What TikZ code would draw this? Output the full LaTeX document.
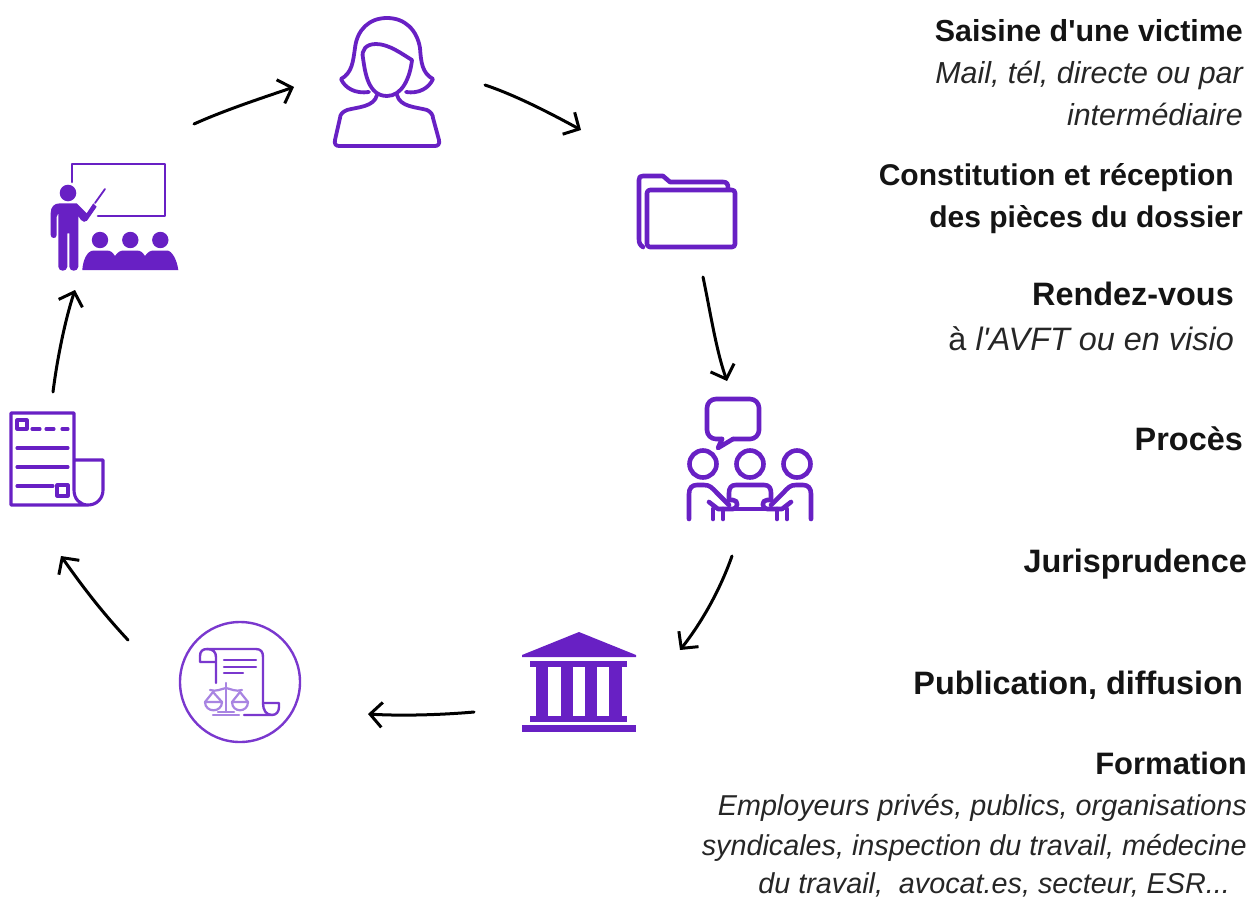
\documentclass[tikz,border=0pt]{standalone}
\usepackage{fontspec}
\setmainfont{Liberation Sans}[Ligatures=TeXOff]
\usetikzlibrary{arrows.meta}
\definecolor{vio}{HTML}{6820C4}
\definecolor{vio2}{HTML}{7A38CE}
\definecolor{vio3}{HTML}{A884E2}
\definecolor{rim}{HTML}{EEF0F6}
\pgfdeclareradialshading{sealshade}{\pgfpoint{0bp}{0bp}}{color(0bp)=(white); color(25bp)=(white); color(35bp)=(rim); color(50bp)=(rim)}
\tikzset{
  ico/.style={draw=vio,line width=3.8pt,line cap=round,line join=round},
  icoheavy/.style={draw=vio,line width=4.6pt,line cap=round,line join=round},
  icothin/.style={draw=vio,line width=3.1pt,line cap=round,line join=round},
  icoboard/.style={draw=vio,line width=2.6pt,line cap=round,line join=round},
  icofill/.style={fill=vio,draw=none},
  seal/.style={draw=vio2,line width=2.4pt,line cap=round,line join=round},
  scales/.style={draw=vio3,line width=2.2pt,line cap=round,line join=round},
  sk/.style={draw=black,line width=3pt,line cap=round,-{Straight Barb[length=12pt,width=25pt]}},
  box/.style={inner sep=0pt,minimum width=#1},
  tb/.style={anchor=base east,inner sep=0pt,text=black!92,font=\fontsize{30.4}{36}\selectfont\bfseries},
  tbs/.style={tb,font=\fontsize{30}{36}\selectfont\bfseries},
  tbl/.style={tb,font=\fontsize{32.4}{36}\selectfont\bfseries},
  tbm/.style={tb,font=\fontsize{31}{36}\selectfont\bfseries},
  ti/.style={anchor=base east,inner sep=0pt,text=black!85,font=\fontsize{30.4}{36}\selectfont\itshape},
  til/.style={ti,font=\fontsize{32.4}{36}\selectfont\itshape},
  tis/.style={ti,font=\fontsize{28.75}{36}\selectfont\itshape},
}
\begin{document}
\begin{tikzpicture}[x=1pt,y=-1pt]
\useasboundingbox (0,0) rectangle (1250,897);

% ---- icon anchors
\node[box=106pt,minimum height=130pt] (woman) at (387,82) {};
\node[box=100pt,minimum height=74pt] (folder) at (687,211) {};
\node[box=128pt,minimum height=124pt] (meeting) at (750,459) {};
\node[box=116pt,minimum height=102pt] (court) at (579,682) {};
\node[box=122pt,minimum height=122pt] (sealn) at (240,682) {};
\node[box=94pt,minimum height=94pt] (doc) at (57,459) {};
\node[box=130pt,minimum height=108pt] (teacher) at (114,217) {};

% ---- woman
\draw[ico] (369,92) .. controls (355,94) and (345,88) .. (341,79)
  .. controls (352,73) and (353,62) .. (355,48)
  .. controls (357,30) and (369,18) .. (387,18)
  .. controls (405,18) and (417,30) .. (420,48)
  .. controls (421,62) and (422,73) .. (433,79)
  .. controls (429,88) and (419,94) .. (406,92);
\draw[ico] (412,60) .. controls (402,54) and (389,44) .. (376,44)
  .. controls (366,44) and (361,50) .. (363,58)
  .. controls (365,72) and (368,96) .. (387,96)
  .. controls (402,96) and (410,78) .. (412,60) -- cycle;
\draw[ico] (377,95) .. controls (374,107) and (358,107) .. (347,110)
  .. controls (342,112) and (340,115) .. (340,118)
  -- (335,140) .. controls (334,144) and (336,146) .. (339,146)
  -- (435,146) .. controls (438,146) and (440,144) .. (439,140)
  -- (433,118) .. controls (433,115) and (431,112) .. (427,110)
  .. controls (416,107) and (400,107) .. (397,95);

% ---- folder
\draw[icoheavy] (643,247) .. controls (640,245) and (639,243) .. (639,239) -- (639,180)
  .. controls (639,177) and (640,176) .. (643,176) -- (663,176) -- (670,182) -- (723,182)
  .. controls (727,182) and (728,184) .. (728,188);
\draw[icoheavy,rounded corners=3pt] (647,190) rectangle (735,247);

% ---- meeting
\draw[icoheavy,rounded corners=9pt] (722,439) -- (707,439) -- (707,399) -- (759,399) -- (759,439) -- (733,439);
\draw[icoheavy] (722,439) -- (718,448) -- (733,439);
\foreach \cx in {703,750,797} \draw[icoheavy] (\cx,464) circle[radius=13.5pt];
\draw[icoheavy] (689,519) -- (689,494) .. controls (689,488) and (692,485) .. (697,485) -- (704,485)
  .. controls (710,485) and (712,488) .. (716,492) -- (729,505);
\draw[icoheavy] (811,519) -- (811,494) .. controls (811,488) and (808,485) .. (803,485) -- (796,485)
  .. controls (790,485) and (788,488) .. (784,492) -- (771,505);
\draw[icoheavy] (729,500) -- (729,493) .. controls (729,488) and (731,485) .. (736,485) -- (764,485)
  .. controls (769,485) and (771,488) .. (771,493) -- (771,500);
\draw[icoheavy] (709,502) -- (718,509) -- (733,509) .. controls (738,509) and (739,500) .. (733,500) -- (729,500);
\draw[icoheavy] (791,502) -- (782,509) -- (767,509) .. controls (762,509) and (761,500) .. (767,500) -- (771,500);
\draw[icoheavy] (733,509) -- (767,509);
\foreach \lx in {713,723,777,787} \draw[icoheavy] (\lx,509) -- (\lx,519);

% ---- court
\fill[icofill] (579,632) -- (636,655) -- (636,657) -- (522,657) -- (522,655) -- cycle;
\fill[icofill] (530,661) rectangle (627,667);
\fill[icofill] (530,716) rectangle (627,722);
\fill[icofill] (522,725) rectangle (636,732);
\foreach \a/\b in {536/548,561/573,585/597,609/622} \fill[icofill] (\a,667) rectangle (\b,716);

% ---- seal
\shade[shading=sealshade] (240,682) circle[radius=60pt];
\draw[seal] (240,682) circle[radius=60pt];
\draw[seal] (215,662) -- (200,662) -- (200,656) .. controls (200,651) and (203,649) .. (207,649)
  -- (256,649) .. controls (261,649) and (263,652) .. (263,657) -- (263,703)
  .. controls (263,710) and (266,715) .. (272,715) -- (244,715);
\draw[seal] (207,649) .. controls (213,649) and (216,652) .. (216,657) -- (216,683);
\draw[seal] (263,703) -- (279,703) -- (279,707) .. controls (279,712) and (276,715) .. (272,715);
\draw[seal] (224,660) -- (256,660);
\draw[seal] (224,667) -- (256,667);
\draw[seal] (224,673) -- (243,673);
\draw[scales] (226,683) -- (226,712);
\draw[scales] (218,712) -- (234,712);
\draw[scales] (213,715) -- (239,715);
\draw[scales] (210,690) .. controls (216,692) and (221,689) .. (226,688) .. controls (231,689) and (236,692) .. (242,690);
\draw[scales] (205,702) -- (213,692) -- (222,702);
\draw[scales] (232,702) -- (240,692) -- (248,702);
\draw[scales] (205,702) -- (222,702) .. controls (222,713) and (205,713) .. (205,702);
\draw[scales] (232,702) -- (248,702) .. controls (248,713) and (232,713) .. (232,702);

% ---- document
\draw[icothin] (88,505) -- (11,505) -- (11,413) -- (74,413) -- (74,490)
  .. controls (74,499) and (80,505) .. (88,505)
  .. controls (97,505) and (103,498) .. (103,490) -- (103,460) -- (74,460);
\draw[icothin] (17,420) rectangle (27,429);
\draw[icothin] (57,485) rectangle (68,496);
\draw[icothin] (32,429) -- (40,429);
\draw[icothin] (46,429) -- (54,429);
\draw[icothin] (62,429) -- (68,429);
\draw[icothin] (17,448) -- (68,448);
\draw[icothin] (17,467) -- (68,467);
\draw[icothin] (17,486) -- (53,486);

% ---- teacher
\draw[icoboard] (72,182) -- (72,164) -- (165,164) -- (165,216) -- (98,216);
\fill[icofill] (68,193) circle[radius=8.3pt];
\fill[icofill] (50.7,235) -- (50.7,213) .. controls (50.7,207) and (54,203.3) .. (60,203.3) -- (76.7,203.3)
  -- (86.7,213.3) -- (93.3,203.3) -- (96.7,206.7) -- (87,220.7) .. controls (85,222.5) and (83,222) .. (81,220)
  -- (78.3,216) -- (78.3,266.7) .. controls (78.3,272) and (69.3,272) .. (69.3,266.7) -- (69.3,233.3)
  -- (67.3,233.3) -- (67.3,266.7) .. controls (67.3,272) and (58.3,272) .. (58.3,266.7) -- (58.3,213.3)
  -- (56.7,216.7) -- (56.7,235) .. controls (56.7,239) and (50.7,239) .. (50.7,235) -- cycle;
\draw[vio,line width=1.8pt,line cap=round] (95,203) -- (105,189);
\foreach \hx in {100,130.3,160.3} \fill[icofill] (\hx,240) circle[radius=8.2pt];
\fill[icofill] (82.3,270) .. controls (83,260) and (87,250.5) .. (94,250.5) -- (107,250.5)
  .. controls (111,250.5) and (113,253) .. (115,256) .. controls (118,252) and (120,250.5) .. (124,250.5) -- (137,250.5)
  .. controls (141,250.5) and (143,253) .. (145,256) .. controls (148,252) and (150,250.5) .. (154,250.5) -- (167,250.5)
  .. controls (172,250.5) and (177,260) .. (178.3,270) -- cycle;

% ---- connectors
\coordinate (a1s) at (194,124); \coordinate (a1e) at (294,87);
\coordinate (a2s) at (485,85);  \coordinate (a2e) at (581,130);
\coordinate (a3s) at (703,277); \coordinate (a3e) at (727,381);
\coordinate (a4s) at (732,556); \coordinate (a4e) at (680,650);
\coordinate (a5s) at (474,712); \coordinate (a5e) at (368,714);
\coordinate (a6s) at (128,640); \coordinate (a6e) at (61,556);
\coordinate (a7s) at (53,392);  \coordinate (a7e) at (75,290);
\draw[sk] (a1s) .. controls (225,110) and (262,98) .. (a1e);
\draw[sk] (a2s) .. controls (515,95) and (550,113) .. (a2e);
\draw[sk] (a3s) .. controls (710,310) and (716,350) .. (a3e);
\draw[sk] (a4s) .. controls (720,590) and (702,622) .. (a4e);
\draw[sk] (a5s) .. controls (440,715) and (400,716) .. (a5e);
\draw[sk] (a6s) .. controls (100,610) and (80,583) .. (a6e);
\draw[sk] (a7s) .. controls (57,360) and (65,320) .. (a7e);

% ---- texts
\node[tb] (t1) at (1243,41) {Saisine d'une victime};
\node[ti] (t2) at (1243,83) {Mail, tél, directe ou par};
\node[ti] (t3) at (1243,125) {intermédiaire};
\node[tbs] (t4) at (1234,185) {Constitution et réception};
\node[tbs] (t5) at (1243,227) {des pièces du dossier};
\node[tbl] (t6) at (1234,305) {Rendez-vous};
\node[til] (t7) at (1234,350) {{\upshape à} l'AVFT ou en visio};
\node[tbl] (t8) at (1243,450) {Procès};
\node[tbl] (t9) at (1247,572) {Jurisprudence};
\node[tbl] (t10) at (1243,694) {Publication, diffusion};
\node[tbm] (t11) at (1247,774) {Formation};
\node[tis] (t12) at (1247,815) {Employeurs privés, publics, organisations};
\node[tis] (t13) at (1247,855) {syndicales, inspection du travail, médecine};
\node[tis] (t14) at (1230,893) {du travail,\ \ avocat.es, secteur, ESR...};
\end{tikzpicture}
\end{document}
